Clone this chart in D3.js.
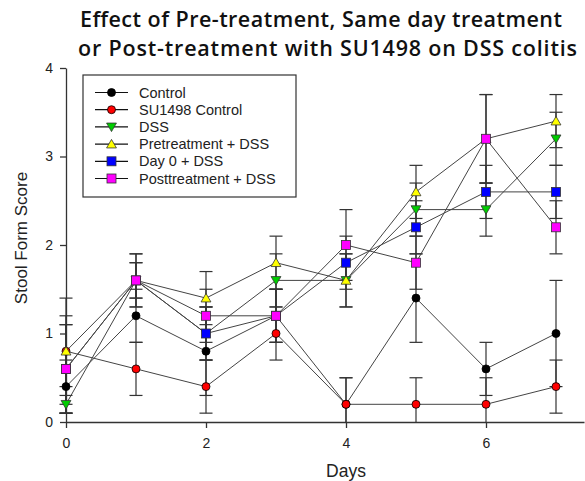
<!DOCTYPE html>
<html><head><meta charset="utf-8">
<script src="https://cdn.jsdelivr.net/npm/d3@7"></script>
<style>body{margin:0;background:#fff}svg{display:block}</style>
</head><body>
<script>
const days = [0,1,2,3,4,5,6,7];
const seriesNames = ["Control","SU1498 Control","DSS","Pretreatment + DSS","Day 0 + DSS","Posttreatment + DSS"];
const control    = [0.4,1.2,0.8,1.2,0.2,1.4,0.6,1.0];
const su1498     = [0.8,0.6,0.4,1.0,0.2,0.2,0.2,0.4];
const dss        = [0.2,1.6,1.0,1.6,1.6,2.4,2.4,3.2];
const pre        = [0.8,1.6,1.4,1.8,1.6,2.6,3.2,3.4];
const day0       = [0.6,1.6,1.0,1.2,1.8,2.2,2.6,2.6];
const post       = [0.6,1.6,1.2,1.2,2.0,1.8,3.2,2.2];
const controlErr = [0.3,0.3,0.5,0.3,0.3,0.5,0.3,0.6];
const su1498Err  = [0.4,0.3,0.3,0.3,0.3,0.3,0.3,0.3];
const dssErr     = [0.1,0.2,0.3,0.3,0.3,0.3,0.3,0.3];
const preErr     = [0.6,0.3,0.3,0.3,0.3,0.3,0.5,0.3];
const day0Err    = [0.5,0.3,0.3,0.3,0.3,0.3,0.3,0.3];
const postErr    = [0.5,0.2,0.3,0.3,0.4,0.3,0.5,0.3];
const xTicks = [0,2,4,6];
const yTicks = [0,1,2,3,4];
const titleLines = ["Effect of Pre-treatment, Same day treatment","or Post-treatment with SU1498 on DSS colitis"];
const xLabel = "Days", yLabel = "Stool Form Score";

const styles = [
  {fill:"#000000", shape:"circle"},
  {fill:"#ff0000", shape:"circle"},
  {fill:"#00cc00", shape:"tdown"},
  {fill:"#ffff00", shape:"tup"},
  {fill:"#0000ff", shape:"square"},
  {fill:"#ff00ff", shape:"square"}
];
const values = [control,su1498,dss,pre,day0,post];
const errs = [controlErr,su1498Err,dssErr,preErr,day0Err,postErr];
const series = seriesNames.map((n,i)=>({name:n, st:styles[i], pts:days.map((d,j)=>({d, v:values[i][j], e:errs[i][j]}))}));

const W=585,H=481;
const svg=d3.select("body").append("svg").attr("width",W).attr("height",H);
const x=d3.scaleLinear().domain([0,7.4]).range([66,584]);
const y=d3.scaleLinear().domain([0,4]).range([422,68]);
const ink="#333";

// title
const tw=[482,499];
svg.append("g").selectAll("text").data(titleLines).join("text")
  .attr("x",(d,i)=>i?78:80).attr("y",(d,i)=>27+i*29)
  .attr("font-family","Open Sans").attr("font-weight",600).attr("font-size",21.5)
  .attr("textLength",(d,i)=>tw[i]).attr("lengthAdjust","spacing")
  .attr("fill","#111").text(d=>d);

// axes
const xa=svg.append("g").attr("transform","translate(0,422)")
  .call(d3.axisBottom(x).tickValues(xTicks).tickFormat(d3.format("d")).tickSize(6).tickSizeOuter(0).tickPadding(10));
const ya=svg.append("g").attr("transform","translate(66,0)")
  .call(d3.axisLeft(y).tickValues(yTicks).tickFormat(d3.format("d")).tickSize(6).tickSizeOuter(0).tickPadding(7));
[xa,ya].forEach(a=>{
  a.selectAll("path,line").attr("stroke",ink).attr("stroke-width",1.3);
  a.selectAll("text").attr("font-family","Liberation Sans").attr("font-size",14).attr("fill","#222");
});

svg.append("text").attr("x",346).attr("y",477).attr("text-anchor","middle")
  .attr("font-family","Liberation Sans").attr("font-size",17.5).attr("fill","#222").text(xLabel);
svg.append("text").attr("transform","translate(27,238) rotate(-90)").attr("text-anchor","middle")
  .attr("font-family","Liberation Sans").attr("font-size",17).attr("fill","#222").text(yLabel);

// error bars
const eb=svg.append("g");
series.forEach(s=>{
  s.pts.forEach(p=>{
    const lo=Math.max(0,p.v-p.e), hi=p.v+p.e;
    eb.append("line").attr("x1",x(p.d)).attr("x2",x(p.d)).attr("y1",y(lo)).attr("y2",y(hi)).attr("stroke",ink).attr("stroke-width",1.2);
    eb.append("line").attr("x1",x(p.d)-6.5).attr("x2",x(p.d)+6.5).attr("y1",y(hi)).attr("y2",y(hi)).attr("stroke",ink).attr("stroke-width",1.2);
    if(p.v-p.e>0) eb.append("line").attr("x1",x(p.d)-6.5).attr("x2",x(p.d)+6.5).attr("y1",y(lo)).attr("y2",y(lo)).attr("stroke",ink).attr("stroke-width",1.2);
  });
});

// lines
const line=d3.line().x(p=>x(p.d)).y(p=>y(p.v));
svg.append("g").selectAll("path").data(series).join("path")
  .attr("d",s=>line(s.pts)).attr("fill","none").attr("stroke","#444").attr("stroke-width",1);

function marker(g,shape,fill,cx,cy){
  if(shape==="circle") g.append("circle").attr("cx",cx).attr("cy",cy).attr("r",4).attr("fill",fill).attr("stroke","#000").attr("stroke-width",0.8);
  else if(shape==="square") g.append("rect").attr("x",cx-4.5).attr("y",cy-4.5).attr("width",9).attr("height",9).attr("fill",fill).attr("stroke","#333").attr("stroke-width",0.8);
  else {
    const s=d3.symbol().type(d3.symbolTriangle).size(42)();
    g.append("path").attr("d",s).attr("transform",`translate(${cx},${cy+(shape==="tdown"?-1:1)}) rotate(${shape==="tdown"?180:0})`)
      .attr("fill",fill).attr("stroke","#333").attr("stroke-width",0.8);
  }
}
const mg=svg.append("g");
series.forEach(s=>s.pts.forEach(p=>marker(mg,s.st.shape,s.st.fill,x(p.d),y(p.v))));

// legend
const lg=svg.append("g");
lg.append("rect").attr("x",83).attr("y",75).attr("width",213).attr("height",122).attr("fill","#fff").attr("stroke",ink).attr("stroke-width",1.2);
series.forEach((s,i)=>{
  const yy=92.5+i*17.2;
  lg.append("line").attr("x1",95).attr("x2",128).attr("y1",yy).attr("y2",yy).attr("stroke","#111").attr("stroke-width",1.2);
  marker(lg,s.st.shape,s.st.fill,111.5,yy);
  lg.append("text").attr("x",139).attr("y",yy+5).attr("font-family","Liberation Sans").attr("font-size",14.5).attr("fill","#222").text(s.name);
});
</script>
</body></html>
